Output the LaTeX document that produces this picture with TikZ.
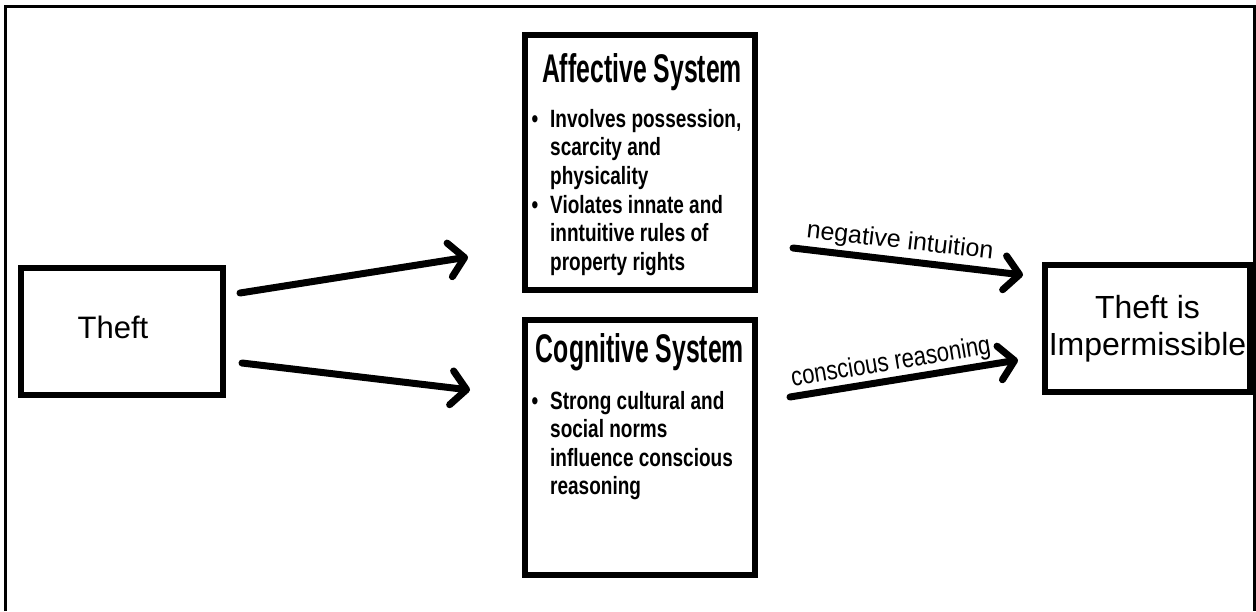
\documentclass[tikz,border=0pt]{standalone}
\usepackage{fontspec}
\setmainfont{Liberation Sans}
\newfontfamily\titlefont[FakeStretch=0.62]{Liberation Sans}
\newfontfamily\bodyfont[FakeStretch=0.76]{Liberation Sans}
\newfontfamily\labelfont[FakeStretch=0.82]{Liberation Sans}
\usetikzlibrary{arrows.meta}
\begin{document}
\begin{tikzpicture}[x=1pt,y=-1pt,
  box/.style={draw, line width=6pt, inner sep=0pt},
  flow/.style={line width=7pt, line cap=round, -{Straight Barb[length=15pt, width=34pt, round]}},
  titletext/.style={inner sep=0pt, anchor=base, font={\titlefont\bfseries\fontsize{40}{44}\selectfont}},
  bodytext/.style={inner sep=0pt, anchor=base west, align=left, font={\bodyfont\bfseries\fontsize{25}{28.6}\selectfont}},
  bullettext/.style={inner sep=0pt, anchor=base, font={\bodyfont\bfseries\fontsize{25}{28.6}\selectfont}},
  plaintext/.style={inner sep=0pt, font={\fontsize{31}{37}\selectfont}},
  arrowlabel/.style={inner sep=0pt, font={\fontsize{25}{28}\selectfont}}]
\useasboundingbox (0,0) rectangle (1256,611);
% outer frame
\draw[line width=3pt] (5.5,611) -- (5.5,6.5) -- (1254,6.5) -- (1254,611);
% boxes
\node[box, minimum width=202pt, minimum height=127pt] (theft) at (122,331.5) {};
\node[box, minimum width=230pt, minimum height=255pt] (affective) at (640,162.5) {};
\node[box, minimum width=230pt, minimum height=255pt] (cognitive) at (640,447.5) {};
\node[box, minimum width=205pt, minimum height=127pt, align=center,
      font={\fontsize{32}{37}\selectfont}] (result) at (1147.5,328.5) {Theft is\\Impermissible};
% texts
\node[plaintext, anchor=base] (theftText) at (113,338) {Theft};
\node[titletext] (affTitle) at (642,82) {Affective System};
\node[bullettext] (affB1) at (535,127) {\textbullet};
\node[bodytext] (affT1) at (550,184.2) {Involves possession,\\scarcity and\\physicality};
\node[bullettext] (affB2) at (535,213) {\textbullet};
\node[bodytext] (affT2) at (550,270.2) {Violates innate and\\inntuitive rules of\\property rights};
\node[titletext] (cogTitle) at (640,362) {Cognitive System};
\node[bullettext] (cogB1) at (535,409) {\textbullet};
\node[bodytext] (cogT1) at (550,494.8) {Strong cultural and\\social norms\\influence conscious\\reasoning};
% arrow end points
\coordinate (a1s) at (240,293);
\coordinate (a1e) at (468,257);
\coordinate (a2s) at (242,363);
\coordinate (a2e) at (470,390);
\coordinate (a3s) at (793,248);
\coordinate (a3e) at (1023,275);
\coordinate (a4s) at (790,397);
\coordinate (a4e) at (1018,360);
\draw[flow] (a1s) -- (a1e);
\draw[flow] (a2s) -- (a2e);
\draw[flow] (a3s) -- (a3e);
\draw[flow] (a4s) -- (a4e);
% arrow labels
\node[arrowlabel, rotate=-6.5] (negLbl) at (900,242) {negative intuition};
\node[arrowlabel, rotate=9.5, font={\labelfont\fontsize{27}{30}\selectfont}] (consLbl) at (891,363) {conscious reasoning};
\end{tikzpicture}
\end{document}
